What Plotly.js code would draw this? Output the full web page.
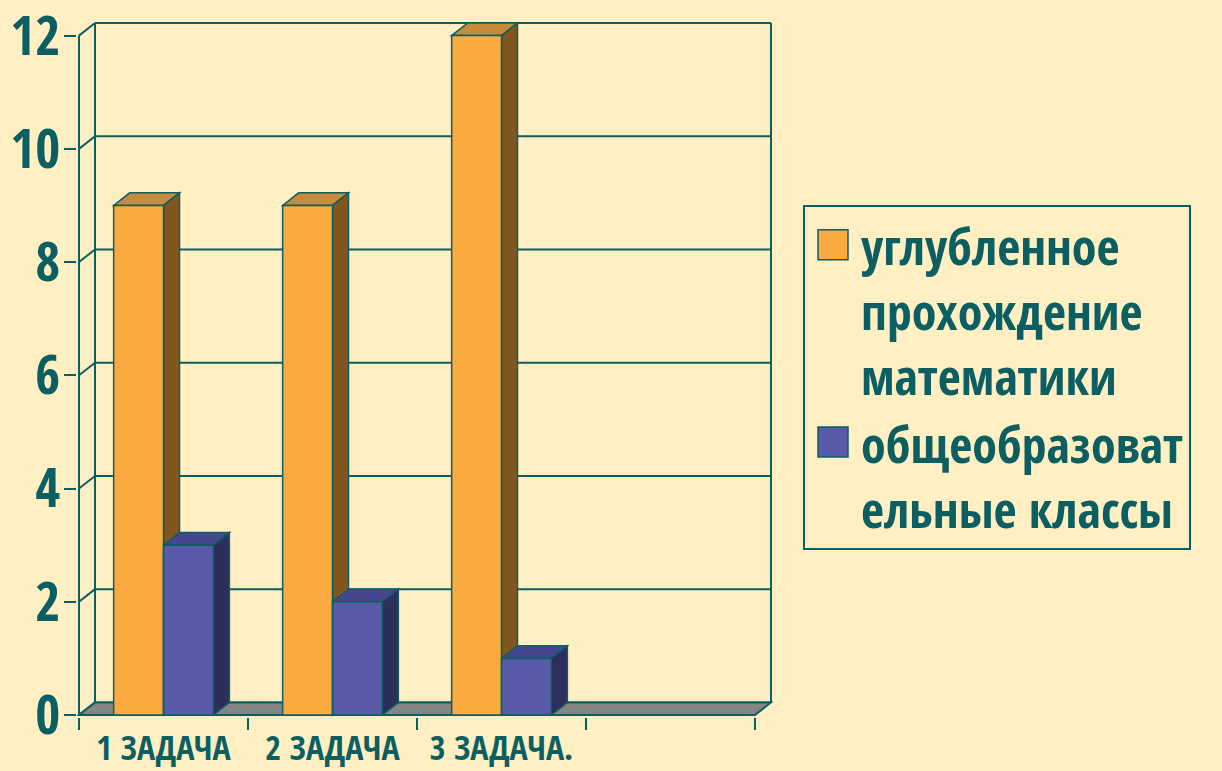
<!DOCTYPE html>
<html>
<head>
<meta charset="utf-8">
<script src="https://cdn.plot.ly/plotly-3.0.1.min.js"></script>
<style>
  html, body { margin: 0; padding: 0; background: #FFEFC2; }
  #chart { width: 1222px; height: 771px; }
</style>
</head>
<body>
<div id="chart"></div>
<script>
// ---------------- data ----------------
const categories = ["1 ЗАДАЧА", "2 ЗАДАЧА", "3 ЗАДАЧА."];
const seriesNames = ["углубленное<br>прохождение<br>математики", "общеобразоват<br>ельные классы"];
const deepValues = [9, 9, 12];
const generalValues = [3, 2, 1];
const yTickValues = [0, 2, 4, 6, 8, 10, 12];
const slotCount = 4; // the chart has an empty 4th category slot

// ---------------- style ----------------
const W = 1222, H = 771;
const BG = "#FFEFC2";
const TEAL = "#0B5E61";
const ORANGE = { front: "#FAAA3E", top: "#C98A3A", side: "#84561F" };
const BLUE = { front: "#5A5AAA", top: "#46468E", side: "#2E2E5C" };
const FLOOR = "#858585";
const FAM = "'Open Sans Condensed', 'Roboto Condensed', 'DejaVu Sans Condensed', sans-serif";

const pxPerX = 169, pxPerY = 56.6;
const DX = 16 / pxPerX, DY = 12.6 / pxPerY;          // 3-D depth
const padX = 2 / pxPerX, padY = 2 / pxPerY;
const yTop = yTickValues[yTickValues.length - 1];
const xMin = -padX, xMax = slotCount + DX + padX;
const yMin = -padY, yMax = yTop + DY + padY;
const plotW = (xMax - xMin) * pxPerX, plotH = (yMax - yMin) * pxPerY;
const mL = 77, mB = 54;
const mR = W - mL - plotW, mT = H - mB - plotH;
const paperX = px => (px - mL) / plotW;
const paperY = py => (H - mB - py) / plotH;

const barW = 0.295;
const catPos = categories.map((c, i) => i + 0.5);
const legendFontSize = 50;

// ---------------- shapes (3-D frame and bar faces) ----------------
const shapes = [];
const line = (x0, y0, x1, y1, w) => shapes.push({
  type: "line", xref: "x", yref: "y", x0, y0, x1, y1, layer: "below",
  line: { color: TEAL, width: w || 2 }
});
const poly = (pts, fill, w, layer) => shapes.push({
  type: "path", xref: "x", yref: "y", layer: layer || "below",
  path: "M" + pts.map(p => p[0] + "," + p[1]).join("L") + "Z",
  fillcolor: fill, line: { color: TEAL, width: w === undefined ? 1.5 : w }
});

yTickValues.forEach(v => {
  line(DX, v + DY, slotCount + DX, v + DY, 2);
  line(0, v, DX, v + DY, 2);
});
line(DX, DY, DX, yTop + DY, 2);
line(slotCount + DX, DY, slotCount + DX, yTop + DY, 2);
line(0, 0, 0, yTop, 2);
poly([[0, 0], [slotCount, 0], [slotCount + DX, DY], [DX, DY]], FLOOR, 2);

function faces(values, offset, col) {
  values.forEach((v, i) => {
    const x0 = catPos[i] + offset, x1 = x0 + barW;
    poly([[x0, v], [x1, v], [x1 + DX, v + DY], [x0 + DX, v + DY]], col.top);
    poly([[x1, 0], [x1, v], [x1 + DX, v + DY], [x1 + DX, DY]], col.side);
  });
}
faces(deepValues, -barW, ORANGE);
faces(generalValues, 0, BLUE);

// front-face outlines drawn over the bars
function outlines(values, offset) {
  values.forEach((v, i) => {
    const x0 = catPos[i] + offset, x1 = x0 + barW;
    poly([[x0, 0], [x1, 0], [x1, v], [x0, v]], "rgba(0,0,0,0)", 1.5, "above");
  });
}
outlines(deepValues, -barW);
outlines(generalValues, 0);

// larger legend swatches (under the legend's own symbols)
[[ORANGE.front, 245], [BLUE.front, 442]].forEach(([c, cy]) => shapes.push({
  type: "rect", xref: "paper", yref: "paper", xsizemode: "pixel", ysizemode: "pixel",
  xanchor: paperX(833), yanchor: paperY(cy), x0: -15, x1: 15, y0: -15, y1: 15,
  fillcolor: c, line: { color: TEAL, width: 1.5 }, layer: "above"
}));

// ---------------- traces ----------------
const traces = [
  { type: "bar", name: seriesNames[0], x: catPos, y: deepValues, width: barW, offset: -barW,
    marker: { color: ORANGE.front, line: { width: 0 } }, hoverinfo: "y" },
  { type: "bar", name: seriesNames[1], x: catPos, y: generalValues, width: barW, offset: 0,
    marker: { color: BLUE.front, line: { width: 0 } }, hoverinfo: "y" }
];

const layout = {
  width: W, height: H,
  margin: { l: mL, r: mR, t: mT, b: mB, pad: 0, autoexpand: false },
  paper_bgcolor: BG, plot_bgcolor: "rgba(0,0,0,0)",
  barmode: "overlay",
  showlegend: true,
  legend: {
    x: paperX(803), xanchor: "left",
    y: paperY(205), yanchor: "top",
    bordercolor: TEAL, borderwidth: 2, bgcolor: "rgba(0,0,0,0)",
    font: { family: FAM, size: legendFontSize, color: TEAL, weight: "bold" },
    itemwidth: 46, valign: "top", tracegroupgap: 0
  },
  xaxis: {
    range: [xMin, xMax], showgrid: false, zeroline: false, showline: false,
    tickmode: "array", tickvals: catPos, ticktext: categories, tickangle: 0,
    ticks: "outside", ticklen: 1, tickcolor: "rgba(0,0,0,0)",
    tickfont: { family: FAM, size: 34, color: TEAL, weight: "bold" },
    minor: { tickmode: "array", tickvals: Array.from({ length: slotCount + 1 }, (_, i) => i),
             ticks: "outside", ticklen: 12, tickwidth: 2, tickcolor: TEAL, showgrid: false },
    fixedrange: true
  },
  yaxis: {
    range: [yMin, yMax], showgrid: false, zeroline: false, showline: false,
    tickmode: "array", tickvals: yTickValues,
    ticks: "outside", ticklen: 12, tickwidth: 2, tickcolor: TEAL,
    tickfont: { family: FAM, size: 54, color: TEAL, weight: "bold" },
    ticklabeloverflow: "allow", ticklabelstandoff: -7,
    fixedrange: true
  },
  shapes
};

Plotly.newPlot("chart", traces, layout, { displayModeBar: false, staticPlot: true });
</script>
</body>
</html>
